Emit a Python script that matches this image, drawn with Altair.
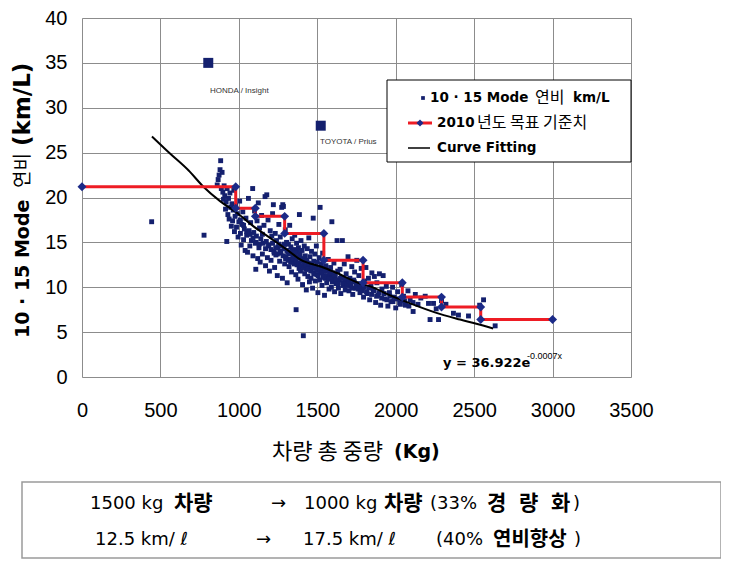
import altair as alt
import pandas as pd

# ---------------- data ----------------
mode_weight = [
    444, 778, 862, 868, 874, 880, 884, 888, 893, 898,
    902, 906, 910, 915, 919, 923, 925, 930, 934, 938,
    943, 948, 952, 956, 960, 964, 968, 972, 976, 980,
    985, 990, 995, 1000, 1005, 1010, 1015, 1020, 1025, 1030,
    1035, 1040, 1045, 1050, 1055, 1061, 1065, 1070, 1075, 1080,
    1088, 1090, 1095, 1100, 1105, 1108, 1112, 1116, 1120, 1124,
    1128, 1132, 1136, 1140, 1145, 1150, 1155, 1160, 1167, 1170,
    1175, 1178, 1182, 1186, 1190, 1195, 1200, 1205, 1210, 1215,
    1220, 1224, 1228, 1232, 1236, 1240, 1245, 1250, 1255, 1260,
    1264, 1268, 1273, 1278, 1280, 1284, 1288, 1292, 1296, 1300,
    1304, 1308, 1312, 1316, 1320, 1324, 1328, 1332, 1336, 1340,
    1344, 1348, 1352, 1356, 1360, 1363, 1365, 1368, 1371, 1374,
    1377, 1380, 1384, 1386, 1390, 1393, 1396, 1400, 1403, 1406,
    1409, 1411, 1414, 1417, 1420, 1423, 1426, 1430, 1433, 1436,
    1440, 1443, 1446, 1450, 1453, 1456, 1460, 1463, 1466, 1470,
    1474, 1477, 1480, 1484, 1487, 1490, 1494, 1497, 1500, 1504,
    1508, 1512, 1515, 1518, 1522, 1526, 1530, 1534, 1538, 1542,
    1546, 1550, 1555, 1560, 1565, 1570, 1575, 1580, 1585, 1590,
    1593, 1597, 1602, 1606, 1610, 1615, 1620, 1626, 1630, 1635,
    1640, 1645, 1650, 1655, 1660, 1666, 1672, 1678, 1684, 1690,
    1696, 1702, 1708, 1714, 1720, 1726, 1732, 1738, 1745, 1752,
    1758, 1765, 1772, 1780, 1788, 1795, 1802, 1810, 1818, 1826,
    1834, 1842, 1848, 1856, 1864, 1872, 1880, 1888, 1896, 1904,
    1912, 1920, 1930, 1940, 1950, 1960, 1970, 1980, 1990, 2000,
    2012, 2025, 2038, 2050, 2062, 2078, 2092, 2111, 2125, 2142,
    2160, 2188, 2209, 2219, 2241, 2258, 2273, 2292, 2320, 2368,
    2400, 2464, 2535, 2560, 2634,
    1262, 1270, 1282, 1290, 1298, 1306, 1314, 1322, 1330, 1338,
    1346, 1354, 1358, 1366, 1372, 1382, 1388, 1398, 1405, 1412,
    1418, 1428, 1438, 1448, 1458, 1468, 1478, 1488, 1498, 1506,
    1516, 1528, 1540, 1552, 1562, 1572, 1582, 1596, 1608, 1618,
    1632, 1648, 1662, 1676, 1688, 1700, 1712, 1724, 1736, 1748,
    1760, 1774, 1786, 1800, 1814, 1830, 1846, 1862, 1878, 1894,
    1910, 1926, 1944, 1962, 1982, 2004, 2030, 2056, 2084, 2110,
    1010, 1030, 1050, 1070, 1090, 1110, 1130, 1150, 1170, 1190,
    1205, 1215, 1225, 1235, 1245, 1255,
]
mode_fe = [
    17.3, 15.8, 21.4, 22.0, 22.5, 23.1, 24.1, 21.0, 22.8, 20.6,
    19.8, 21.3, 20.2, 18.7, 19.5, 15.1, 21.0, 18.1, 19.9, 17.6,
    20.5, 18.9, 16.8, 19.3, 17.4, 18.6, 20.8, 16.2, 17.9, 19.1,
    16.7, 18.2, 15.6, 17.3, 19.6, 16.0, 14.7, 17.0, 18.4, 15.3,
    16.5, 14.1, 17.7, 15.8, 13.9, 19.9, 16.3, 14.6, 17.2, 15.2,
    21.0, 13.5, 16.1, 18.5, 14.9, 12.0, 15.7, 17.4, 13.2, 19.4,
    14.4, 16.6, 12.8, 15.4, 18.0, 13.7, 14.9, 16.9, 20.1, 12.4,
    15.1, 20.3, 13.3, 17.5, 14.6, 11.8, 16.3, 13.0, 15.7, 18.2,
    19.2, 14.0, 12.2, 16.0, 13.6, 15.2, 11.3, 14.5, 17.0, 12.9,
    15.6, 13.8, 18.9, 11.0, 19.2, 19.0, 14.3, 12.6, 16.4, 13.4,
    15.0, 10.5, 13.9, 14.8, 12.3, 16.9, 13.1, 14.5, 11.7, 15.4,
    13.6, 12.8, 14.2, 15.8, 13.3, 11.4, 7.5, 14.9, 12.5, 13.9,
    10.9, 14.4, 12.1, 18.1, 13.7, 11.8, 15.2, 12.9, 14.1, 10.3,
    13.2, 4.6, 12.4, 14.6, 11.5, 13.5, 12.0, 9.7, 13.0, 14.3,
    11.2, 12.7, 15.5, 10.6, 13.4, 12.2, 11.0, 14.0, 12.6, 9.9,
    17.7, 12.9, 11.6, 13.7, 10.7, 12.3, 14.6, 11.4, 12.8, 9.4,
    12.0, 13.3, 10.8, 18.9, 11.7, 12.6, 10.2, 13.8, 11.3, 12.1,
    9.1, 11.0, 12.4, 10.5, 11.9, 13.1, 9.8, 11.4, 12.2, 10.0,
    17.3, 11.6, 10.9, 12.7, 9.5, 11.2, 10.4, 15.2, 11.8, 9.9,
    10.8, 12.0, 9.3, 11.1, 15.2, 10.2, 12.6, 9.7, 11.5, 10.5,
    13.4, 9.6, 11.0, 10.1, 12.3, 9.2, 10.8, 11.7, 9.9, 13.0,
    10.4, 11.3, 9.4, 12.1, 10.0, 8.9, 10.7, 12.2, 9.3, 11.0,
    8.6, 10.2, 11.6, 9.7, 11.2, 8.3, 10.5, 9.1, 11.5, 8.0,
    9.8, 11.3, 8.7, 10.1, 7.9, 9.4, 8.4, 10.0, 8.9, 7.7,
    9.5, 8.3, 10.3, 9.0, 8.0, 9.6, 8.6, 7.3, 9.2, 8.1,
    8.8, 9.0, 8.2, 6.4, 8.2, 7.6, 6.4, 8.5, 8.1, 7.1,
    6.9, 6.8, 8.0, 8.6, 5.7,
    14.0, 14.6, 13.5, 14.8, 13.2, 14.1, 13.0, 13.7, 12.8, 14.0,
    13.1, 12.6, 13.8, 12.9, 13.4, 12.7, 13.3, 12.4, 13.0, 12.2,
    12.9, 12.5, 12.0, 12.6, 11.8, 12.3, 11.5, 12.1, 11.9, 11.3,
    11.9, 11.6, 11.1, 11.8, 11.3, 10.9, 11.6, 10.6, 11.4, 10.8,
    10.4, 11.0, 10.5, 10.9, 10.2, 10.7, 10.4, 9.9, 10.6, 10.1,
    9.8, 10.3, 9.6, 10.0, 9.5, 9.9, 9.2, 9.6, 9.0, 9.4,
    8.8, 9.3, 8.6, 9.0, 8.4, 8.7, 8.1, 8.5, 7.9, 8.3,
    17.5, 16.9, 16.2, 15.9, 15.5, 15.0, 14.8, 15.9, 14.3, 14.7,
    14.2, 14.9, 13.8, 14.4, 13.7, 14.8,
]

std_weight = [0, 980, 980, 1105, 1105, 1292, 1292, 1542, 1542, 1792,
              1792, 2042, 2042, 2292, 2292, 2542, 2542, 3000]
std_fe = [21.2, 21.2, 18.8, 18.8, 17.9, 17.9, 16.0, 16.0, 13.0, 13.0,
          10.5, 10.5, 8.9, 8.9, 7.8, 7.8, 6.4, 6.4]

fit_weight = [446, 561, 680, 774, 880, 987, 1100, 1199, 1305, 1390,
              1539, 1603, 1794, 1837, 1950, 2092, 2250, 2411, 2520, 2621]
fit_fe = [26.8, 24.9, 23.0, 21.2, 19.6, 18.3, 16.7, 15.5, 14.2, 13.1,
          12.2, 11.75, 10.3, 10.1, 9.2, 8.2, 7.2, 6.4, 5.9, 5.4]

hybrid_names = ["HONDA / Insight", "TOYOTA / Prius"]
hybrid_weight = [805, 1522]
hybrid_fe = [35.0, 28.0]

x_ticks = [0, 500, 1000, 1500, 2000, 2500, 3000, 3500]
y_ticks = [0, 5, 10, 15, 20, 25, 30, 35, 40]

# ---------------- styling ----------------
NAVY = "#14206e"
DIAMOND = "#1b2a88"
RED = "#ee1c24"
LAT = "DejaVu Sans"
KR = "Noto Sans CJK KR"
NUM = "'Liberation Sans Narrow', 'Liberation Sans', sans-serif"
W, H = 549, 359

xs = alt.Scale(domain=[0, 3500], nice=False, zero=False)
ys = alt.Scale(domain=[0, 40], nice=False, zero=False)

scatter_df = pd.DataFrame({"w": mode_weight, "fe": mode_fe})
std_df = pd.DataFrame({"w": std_weight, "fe": std_fe, "i": list(range(len(std_weight)))})
fit_df = pd.DataFrame({"w": fit_weight, "fe": fit_fe, "i": list(range(len(fit_weight)))})
hyb_df = pd.DataFrame({"w": hybrid_weight, "fe": hybrid_fe, "name": hybrid_names})

x_axis = alt.Axis(values=x_ticks, format="d", title=None, grid=True, gridColor="#8c8c8c",
                  gridWidth=1, ticks=False, domain=False, labelFont=NUM, labelFontSize=20,
                  labelColor="black", labelPadding=23, labelFlush=False, labelOverlap=False)
y_axis = alt.Axis(values=y_ticks, format="d", title=None, grid=True, gridColor="#8c8c8c",
                  gridWidth=1, ticks=False, domain=False, labelFont=NUM, labelFontSize=20,
                  labelColor="black", labelPadding=15, labelOverlap=False)

X = alt.X("w:Q", scale=xs, axis=x_axis)
Y = alt.Y("fe:Q", scale=ys, axis=y_axis)

scatter = alt.Chart(scatter_df).mark_square(size=24, color=NAVY, opacity=1).encode(x=X, y=Y)

std_line = alt.Chart(std_df).mark_line(color=RED, strokeWidth=3).encode(
    x=X, y=Y, order="i:Q")
std_pts = alt.Chart(std_df).mark_point(shape="diamond", filled=True, size=80,
                                        color=DIAMOND, opacity=1).encode(x=X, y=Y)
fit_line = alt.Chart(fit_df).mark_line(color="black", strokeWidth=2,
                                        interpolate="monotone").encode(
    x=X, y=Y, order="i:Q")
hyb_pts = alt.Chart(hyb_df).mark_square(size=100, color=NAVY, opacity=1).encode(x=X, y=Y)

one = pd.DataFrame({"a": [0]})


def txt(px, py, s, size=14, weight="normal", font=LAT, color="black",
        align="left", angle=0, baseline="middle"):
    # px, py are page coordinates; convert to plot coordinates
    kw = dict(text=s, fontSize=size, fontWeight=weight, font=font, color=color,
              align=align, baseline=baseline)
    if angle:
        kw["angle"] = angle
    return alt.Chart(one).mark_text(**kw).encode(
        x=alt.value(px - 82), y=alt.value(py - 18))


def rect(x0, y0, x1, y1, stroke="black", fill="white", sw=1):
    return alt.Chart(one).mark_rect(fill=fill, stroke=stroke, strokeWidth=sw).encode(
        x=alt.value(x0 - 82), x2=alt.value(x1 - 82),
        y=alt.value(y0 - 18), y2=alt.value(y1 - 18))


def hline(x0, x1, y, color, sw):
    return alt.Chart(one).mark_rule(color=color, strokeWidth=sw).encode(
        x=alt.value(x0 - 82), x2=alt.value(x1 - 82), y=alt.value(y - 18))


def sym(px, py, shape, size, color):
    return alt.Chart(one).mark_point(shape=shape, size=size, filled=True,
                                     color=color, opacity=1).encode(
        x=alt.value(px - 82), y=alt.value(py - 18))


# hybrid labels
hyb_labels = [
    txt(210, 91, hybrid_names[0], size=8, font="Liberation Sans", color="#333333"),
    txt(320, 142, hybrid_names[1], size=8, font="Liberation Sans", color="#333333"),
]

# legend
legend = [
    rect(387, 80, 631, 162),
    sym(423, 98, "square", 14, NAVY),
    txt(430, 98, "10 · 15 Mode", size=13.5, weight="bold"),
    txt(535, 98, "연비", size=16, font=KR),
    txt(573, 98, "km/L", size=13.5, weight="bold"),
    hline(408, 432, 123, RED, 3),
    sym(420, 123, "diamond", 50, DIAMOND),
    txt(437, 123, "2010", size=13.5, weight="bold"),
    txt(477, 123, "년도 목표 기준치", size=16, font=KR),
    hline(408, 430, 148, "black", 1.5),
    txt(437, 148, "Curve Fitting", size=13.5, weight="bold"),
]

# equation
equation = [
    txt(443, 363, "y = 36.922e", size=13, weight="bold"),
    txt(527, 356, "-0.0007x", size=9, font="Liberation Sans"),
]

# axis titles (mixed weights); the y title reads bottom-to-top
ytitle_x = 23
titles = [
    txt(ytitle_x, 338, "10 · 15 Mode", size=19, weight="bold", angle=270),
    txt(ytitle_x, 188, "연비", size=19, font=KR, angle=270),
    txt(ytitle_x, 146, "(km/L)", size=23, weight="bold", angle=270),
    txt(272, 452, "차량 총 중량", size=22, font=KR),
    txt(394, 452, "(Kg)", size=19, weight="bold"),
]

# bottom summary box
box = [
    rect(22, 482, 721, 558, stroke="#9a9a9a", fill="white", sw=1.5),
    txt(90, 504, "1500 kg", size=18),
    txt(174, 504, "차량", size=21, weight="bold", font=KR),
    txt(271, 504, "→", size=18),
    txt(304, 504, "1000 kg", size=18),
    txt(384, 504, "차량", size=21, weight="bold", font=KR),
    txt(430, 504, "(33%", size=18),
    txt(487, 504, "경", size=21, weight="bold", font=KR),
    txt(519, 504, "량", size=21, weight="bold", font=KR),
    txt(551, 504, "화", size=21, weight="bold", font=KR),
    txt(573, 504, ")", size=18),
    txt(95, 540, "12.5 km/ ℓ", size=18),
    txt(256, 540, "→", size=18),
    txt(303, 540, "17.5 km/ ℓ", size=18),
    txt(436, 540, "(40%", size=18),
    txt(493, 540, "연비향상", size=20, weight="bold", font=KR),
    txt(574, 540, ")", size=18),
]

chart = alt.layer(
    scatter, fit_line, std_line, std_pts, hyb_pts,
    *hyb_labels, *legend, *equation, *titles, *box,
).properties(
    width=W, height=H,
    autosize=alt.AutoSizeParams(type="none"),
    padding={"left": 74, "top": 10, "right": 90, "bottom": 182},
).configure_view(
    stroke="black", strokeWidth=1.5,
).configure(background="white")

chart.save("out.html", embed_options={"renderer": "svg", "actions": False})
